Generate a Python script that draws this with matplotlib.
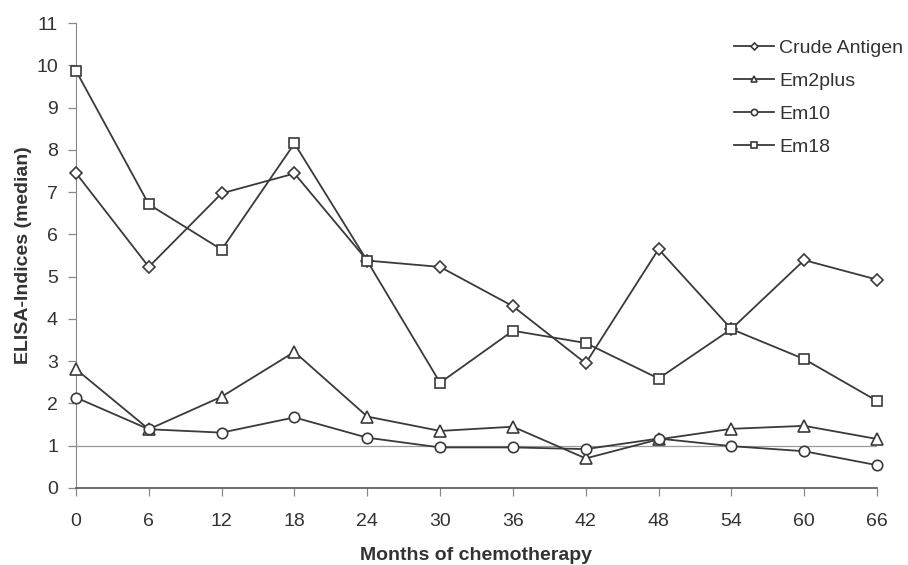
import matplotlib.pyplot as plt

plt.rcParams['font.family'] = ['Liberation Sans', 'DejaVu Sans']

months = [0, 6, 12, 18, 24, 30, 36, 42, 48, 54, 60, 66]
crude_antigen = [7.45, 5.23, 6.97, 7.44, 5.38, 5.23, 4.30, 2.95, 5.65, 3.76, 5.39, 4.93]
em2plus = [2.81, 1.39, 2.16, 3.22, 1.69, 1.35, 1.45, 0.70, 1.15, 1.40, 1.47, 1.16]
em10 = [2.14, 1.39, 1.31, 1.67, 1.19, 0.96, 0.96, 0.92, 1.17, 0.99, 0.87, 0.54]
em18 = [9.87, 6.71, 5.64, 8.15, 5.37, 2.49, 3.72, 3.43, 2.59, 3.76, 3.05, 2.06]

line_col = '#3a3a3a'
text_col = '#333333'

fig = plt.figure(figsize=(9.08, 5.65), dpi=100)
ax = fig.add_axes([76 / 908, 77 / 565, 801 / 908, 465 / 565])

series = [
    ('Crude Antigen', crude_antigen, 'D', 6),
    ('Em2plus', em2plus, '^', 8),
    ('Em10', em10, 'o', 7.5),
    ('Em18', em18, 's', 7.5),
]
for label, vals, mk, ms in series:
    ax.plot(months, vals, color=line_col, lw=1.3, marker=mk, markersize=ms,
            markerfacecolor='white', markeredgecolor=line_col, markeredgewidth=1.2,
            label=label, clip_on=False, zorder=3)

# reference line at index 1
ax.axhline(1, color='#9a9a9a', lw=0.9, zorder=1)

ax.set_xlim(0, 66)
ax.set_ylim(0, 11)
ax.set_xticks(months)
ax.set_yticks(range(0, 12))
ax.tick_params(axis='both', direction='out', length=6, width=0.9, color='#888888',
               labelsize=14, labelcolor=text_col)
ax.tick_params(axis='y', pad=7)
ax.tick_params(axis='x', pad=12)

for side in ['top', 'right']:
    ax.spines[side].set_visible(False)
ax.spines['left'].set_color('#888888')
ax.spines['bottom'].set_color('#555555')
ax.spines['bottom'].set_linewidth(1.2)

ax.set_xlabel('Months of chemotherapy', fontsize=14, fontweight='bold', color=text_col)
ax.set_ylabel('ELISA-Indices (median)', fontsize=14, fontweight='bold', color=text_col)
ax.xaxis.set_label_coords(0.5, (488 - 547) / 465)
ax.yaxis.set_label_coords((32 - 76) / 801, 0.5)

ax.legend(loc='upper left', bbox_to_anchor=(716 / 908, 1 - 22 / 565),
          bbox_transform=fig.transFigure, frameon=False, fontsize=14,
          handlelength=2.06, handletextpad=0.3, markerscale=0.6, labelspacing=0.79,
          labelcolor=text_col)

plt.savefig('out.png', dpi=100)
